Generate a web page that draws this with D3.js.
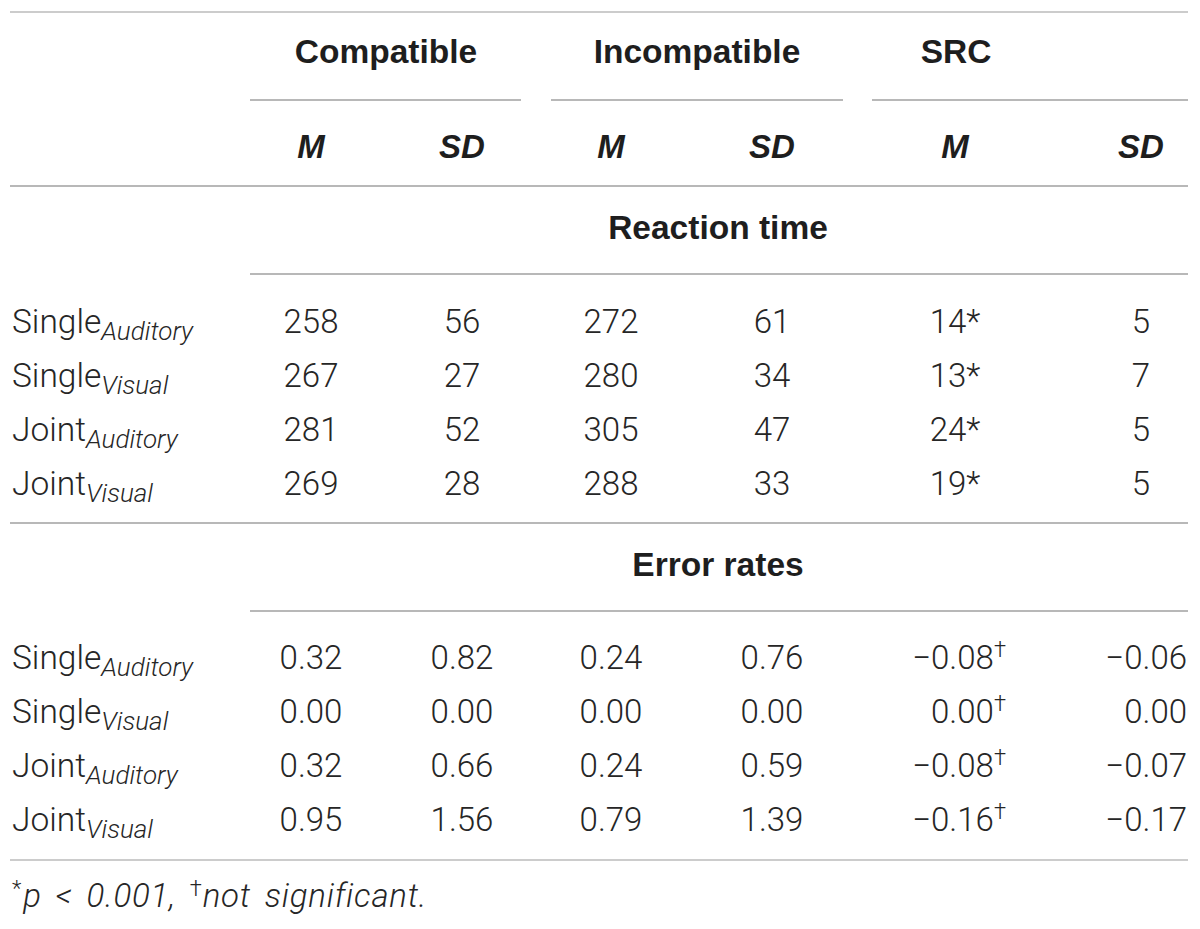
<!DOCTYPE html>
<html><head><meta charset="utf-8">
<script src="https://cdn.jsdelivr.net/npm/d3@7"></script>
<style>body{margin:0;background:#fff}</style>
</head><body>
<svg id="c" width="1200" height="929"></svg>
<script>
const groups = ["Compatible", "Incompatible", "SRC"];
const subHeads = ["M", "SD", "M", "SD", "M", "SD"];
const sections = ["Reaction time", "Error rates"];
const rowNames = ["Single", "Single", "Joint", "Joint"];
const rowSubs = ["Auditory", "Visual", "Auditory", "Visual"];

const rtCompM = [258, 267, 281, 269];
const rtCompSD = [56, 27, 52, 28];
const rtIncM = [272, 280, 305, 288];
const rtIncSD = [61, 34, 47, 33];
const rtSrcM = [14, 13, 24, 19];
const rtSrcSD = [5, 7, 5, 5];

const erCompM = [0.32, 0.00, 0.32, 0.95];
const erCompSD = [0.82, 0.00, 0.66, 1.56];
const erIncM = [0.24, 0.00, 0.24, 0.79];
const erIncSD = [0.76, 0.00, 0.59, 1.39];
const erSrcM = [-0.08, 0.00, -0.08, -0.16];
const erSrcSD = [-0.06, 0.00, -0.07, -0.17];

const footnote = ["*", "p < 0.001, ", "†", "not significant."];

const svg = d3.select("#c");
const BODY = "Roboto, 'Liberation Sans', sans-serif";
const HEAD = "'Liberation Sans', Arial, sans-serif";
const lineCol = "#b8b8b8";
const textCol = "#262626";

const colX = d3.scaleOrdinal().domain([0,1,2,3,4,5]).range([311, 462, 611, 772, 955, 1141]);
const groupX = d3.scaleOrdinal().domain(groups).range([386, 697, 956]);
const groupSpan = d3.scaleOrdinal().domain(groups).range([[250,521],[551,843],[872,1188]]);
const rowY = d3.scaleLinear().domain([0,1]).range([0,54]);

function hline(x1, x2, y, col, w) {
  svg.append("line").attr("x1", x1).attr("x2", x2).attr("y1", y).attr("y2", y)
    .attr("stroke", col || lineCol).attr("stroke-width", w || 2);
}

hline(10, 1188, 12, "#cccccc");
groups.forEach(g => {
  svg.append("text").attr("x", groupX(g)).attr("y", 63).attr("text-anchor", "middle")
    .attr("font-family", HEAD).attr("font-weight", "bold").attr("font-size", 33.5)
    .attr("fill", "#1e1e1e").text(g);
  const s = groupSpan(g);
  hline(s[0], s[1], 100);
});
subHeads.forEach((h, i) => {
  svg.append("text").attr("x", colX(i)).attr("y", 158).attr("text-anchor", "middle")
    .attr("font-family", HEAD).attr("font-weight", "bold").attr("font-style", "italic")
    .attr("font-size", 33).attr("fill", "#1e1e1e").text(h);
});
hline(10, 1188, 186);

const fmt2 = d3.format(".2f");

function section(title, titleY, lineY, baseY, cols, isErr) {
  svg.append("text").attr("x", 718).attr("y", titleY).attr("text-anchor", "middle")
    .attr("font-family", HEAD).attr("font-weight", "bold").attr("font-size", 33.5)
    .attr("fill", "#1e1e1e").text(title);
  hline(250, 1188, lineY);
  rowNames.forEach((n, r) => {
    const y = baseY + rowY(r);
    const t = svg.append("text").attr("x", 12).attr("y", y)
      .attr("font-family", BODY).attr("font-weight", 300).attr("font-size", 33.5).attr("fill", textCol);
    t.append("tspan").text(n);
    t.append("tspan").attr("font-size", 26).attr("font-style", "italic").attr("dy", 7).text(rowSubs[r]);
    cols.forEach((arr, c) => {
      const v = arr[r];
      let txt = isErr ? fmt2(v) : String(v);
      let x = colX(c), anchor = "middle";
      if (isErr && c >= 4) { anchor = "end"; x = c === 4 ? 1006 : 1187; }
      const tt = svg.append("text").attr("x", x).attr("y", y).attr("text-anchor", anchor)
        .attr("font-family", BODY).attr("font-weight", 300).attr("font-size", 33).attr("fill", textCol);
      tt.append("tspan").text(txt);
      if (c === 4) {
        if (isErr) tt.append("tspan").attr("font-size", 22).attr("dy", -12).text("†");
        else tt.append("tspan").text("*");
      }
    });
  });
}

section(sections[0], 239, 274, 333, [rtCompM, rtCompSD, rtIncM, rtIncSD, rtSrcM, rtSrcSD], false);
hline(10, 1188, 523);
section(sections[1], 576, 611, 669, [erCompM, erCompSD, erIncM, erIncSD, erSrcM, erSrcSD], true);
hline(10, 1188, 860, "#cccccc");

const fn = svg.append("text").attr("x", 12).attr("y", 907)
  .attr("font-family", BODY).attr("font-weight", 300).attr("font-style", "italic")
  .attr("font-size", 33).attr("word-spacing", 5).attr("letter-spacing", 0.8).attr("fill", textCol);
fn.append("tspan").attr("font-size", 22).attr("dy", -11).attr("font-style", "normal").text(footnote[0]);
fn.append("tspan").attr("dy", 11).attr("dx", 1).text(footnote[1]);
fn.append("tspan").attr("font-size", 22).attr("dy", -11).attr("font-style", "normal").text(footnote[2]);
fn.append("tspan").attr("dy", 11).text(footnote[3]);
</script>
</body></html>
